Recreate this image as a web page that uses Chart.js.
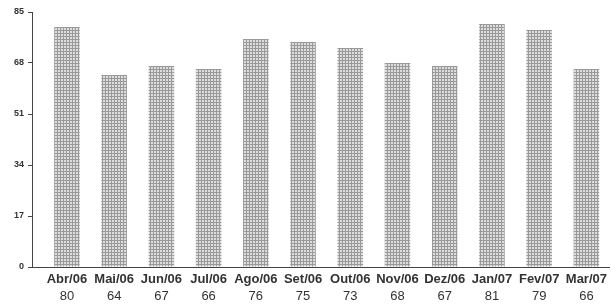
<!DOCTYPE html>
<html>
<head>
<meta charset="utf-8">
<script src="https://cdn.jsdelivr.net/npm/chart.js@4"></script>
<style>
  html, body { margin: 0; padding: 0; background: #fff; overflow: hidden; }
</style>
</head>
<body>
<canvas id="barChart" width="612" height="305"></canvas>
<script>
const months = ['Abr/06', 'Mai/06', 'Jun/06', 'Jul/06', 'Ago/06', 'Set/06', 'Out/06', 'Nov/06', 'Dez/06', 'Jan/07', 'Fev/07', 'Mar/07'];
const values = [80, 64, 67, 66, 76, 75, 73, 68, 67, 81, 79, 66];
const yTicks = [0, 17, 34, 51, 68, 85];

// dotted gray fill like the printed bars
const tile = document.createElement('canvas');
tile.width = 3;
tile.height = 3;
const tctx = tile.getContext('2d');
tctx.fillStyle = '#dedede';
tctx.fillRect(0, 0, 3, 3);
tctx.fillStyle = '#999';
tctx.fillRect(0, 0, 1, 3);
tctx.fillRect(0, 0, 3, 1);
const barFill = tctx.createPattern(tile, 'repeat');

const valueLabels = {
    id: 'valueLabels',
    afterDraw(chart) {
        const ctx = chart.ctx;
        const x = chart.scales.x;
        ctx.save();
        ctx.font = '13px "Liberation Sans", Arial, sans-serif';
        ctx.fillStyle = '#333';
        ctx.textAlign = 'center';
        ctx.textBaseline = 'middle';
        values.forEach((v, i) => {
            ctx.fillText(String(v), x.getPixelForValue(i), chart.chartArea.bottom + 29);
        });
        ctx.restore();
    }
};

const barChart = document.getElementById("barChart");

const barChartElement = new Chart(barChart,
    {
        type: 'bar',
        data: {
            datasets: [
                {
                    data: values.map((v, i) => ({ x: i, y: v })),
                    backgroundColor: barFill,
                    borderWidth: 0,
                    barPercentage: 0.54,
                    categoryPercentage: 1
                }
            ]
        },
        options: {
            responsive: false,
            animation: false,
            layout: { padding: { top: 12, right: 0, left: 0, bottom: 0 } },
            plugins: {
                legend: { display: false },
                tooltip: { enabled: false }
            },
            scales: {
                x: {
                    type: 'linear',
                    offset: false,
                    min: -0.74,
                    max: 11.49,
                    afterBuildTicks: s => { s.ticks = months.map((m, i) => ({ value: i })); },
                    afterFit: s => { s.height = 38; },
                    grid: { offset: false, drawOnChartArea: false, drawTicks: false },
                    border: { color: '#444', width: 1 },
                    ticks: {
                        callback: v => months[v],
                        autoSkip: false,
                        maxRotation: 0,
                        padding: 5,
                        color: '#333',
                        font: { family: '"Liberation Sans", Arial, sans-serif', size: 13, weight: 'bold' }
                    }
                },
                y: {
                    min: 0,
                    max: 85,
                    afterBuildTicks: s => { s.ticks = yTicks.map(v => ({ value: v })); },
                    afterFit: s => { s.width = 32; },
                    grid: { drawOnChartArea: false, tickLength: 4, color: '#444' },
                    border: { color: '#444', width: 1 },
                    ticks: {
                        padding: 4,
                        color: '#333',
                        font: { family: '"Liberation Sans", Arial, sans-serif', size: 9, weight: 'bold' }
                    }
                }
            }
        },
        plugins: [valueLabels]
    });
</script>
</body>
</html>
